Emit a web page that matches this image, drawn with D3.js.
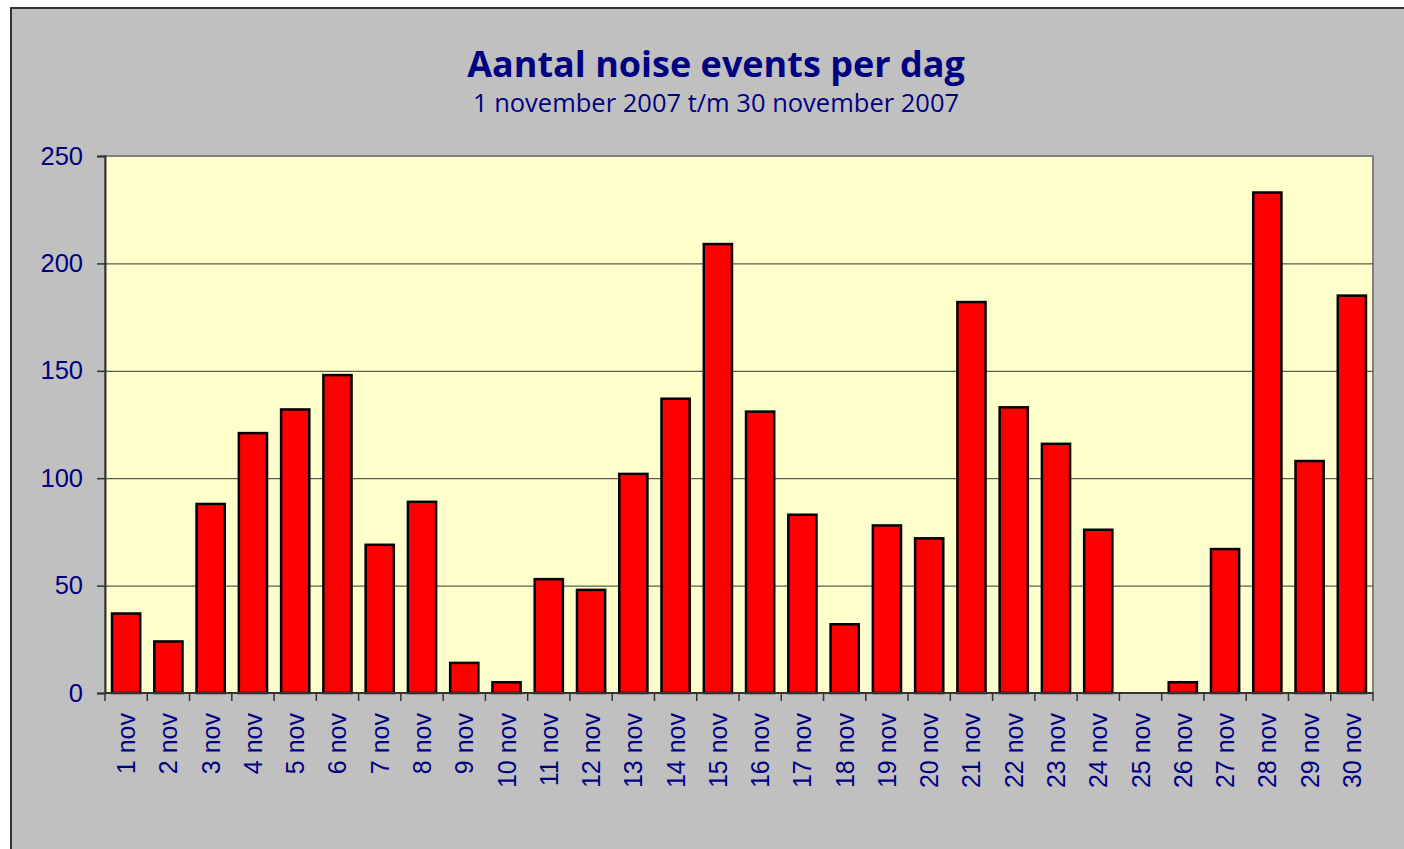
<!DOCTYPE html>
<html>
<head>
<meta charset="utf-8">
<script src="https://cdn.jsdelivr.net/npm/d3@7"></script>
<style>
  body { margin: 0; background: #ffffff; }
  svg { display: block; }
</style>
</head>
<body>
<svg id="chart" width="1404" height="849"></svg>
<script>
// data
var days = d3.range(1, 31).map(function(d){ return d + " nov"; });
var events = [37, 24, 88, 121, 132, 148, 69, 89, 14, 5,
              53, 48, 102, 137, 209, 131, 83, 32, 78, 72,
              182, 133, 116, 76, 0, 5, 67, 233, 108, 185];
var yTicks = [0, 50, 100, 150, 200, 250];
var title = "Aantal noise events per dag";
var subtitle = "1 november 2007 t/m 30 november 2007";

var svg = d3.select("#chart");
var navy = "#000080";

// outer frame
svg.append("rect")
    .attr("x", 11).attr("y", 8)
    .attr("width", 1420).attr("height", 880)
    .attr("fill", "#c0c0c0")
    .attr("stroke", "#333333")
    .attr("stroke-width", 2);

// plot area bounds
var pL = 105, pT = 156, pR = 1373, pB = 693;

var x = d3.scaleBand()
    .domain(days)
    .range([pL, pR])
    .paddingInner(1/3)
    .paddingOuter(1/6);

var y = d3.scaleLinear()
    .domain([0, 250])
    .range([pB, pT]);

// plot background
svg.append("rect")
    .attr("x", pL).attr("y", pT)
    .attr("width", pR - pL).attr("height", pB - pT)
    .attr("fill", "#ffffcc")
    .attr("stroke", "#808080")
    .attr("stroke-width", 2);

// gridlines
svg.append("g")
    .selectAll("line")
    .data(yTicks.filter(function(d){ return d > 0 && d < 250; }))
    .enter()
    .append("line")
    .attr("x1", pL).attr("x2", pR)
    .attr("y1", function(d){ return y(d) + 0.5; })
    .attr("y2", function(d){ return y(d) + 0.5; })
    .attr("stroke", "#333333")
    .attr("stroke-width", 1);

// bars
svg.append("g")
    .selectAll("rect")
    .data(events)
    .enter()
    .append("rect")
    .attr("x", function(d, i){ return x(days[i]); })
    .attr("y", function(d){ return y(d); })
    .attr("width", x.bandwidth())
    .attr("height", function(d){ return pB - y(d); })
    .attr("fill", function(d){ return d > 0 ? "#ff0000" : "none"; })
    .attr("stroke", function(d){ return d > 0 ? "#000000" : "none"; })
    .attr("stroke-width", 2.5);

// y axis
var yAxis = svg.append("g")
    .attr("transform", "translate(" + pL + ",0)")
    .call(d3.axisLeft(y).tickValues(yTicks).tickSize(8).tickPadding(14));
yAxis.select(".domain").attr("stroke", "#333333").attr("stroke-width", 2);
yAxis.selectAll(".tick line").attr("stroke", "#333333").attr("stroke-width", 1.5);
yAxis.selectAll("text")
    .attr("fill", navy)
    .style("font", "25.5px 'Liberation Sans', Arial, sans-serif");

// x axis with ticks on band edges
var xAxis = svg.append("g")
    .attr("transform", "translate(0," + pB + ")");
xAxis.append("line")
    .attr("x1", pL).attr("x2", pR)
    .attr("stroke", "#333333").attr("stroke-width", 2);
var edges = days.map(function(d){ return x(d) - x.step() * x.paddingInner() / 2; });
edges.push(pR);
xAxis.selectAll(".edge")
    .data(edges)
    .enter()
    .append("line")
    .attr("class", "edge")
    .attr("x1", function(d){ return d; }).attr("x2", function(d){ return d; })
    .attr("y1", 0).attr("y2", 8)
    .attr("stroke", "#333333").attr("stroke-width", 1.5);
xAxis.selectAll("text")
    .data(days)
    .enter()
    .append("text")
    .attr("transform", function(d){
        return "translate(" + (x(d) + x.bandwidth() / 2 + 9) + ",20) rotate(-90)";
    })
    .attr("text-anchor", "end")
    .attr("fill", navy)
    .style("font", "25px 'Liberation Sans', Arial, sans-serif")
    .text(function(d){ return d; });

// titles
svg.append("text")
    .attr("x", 716).attr("y", 77)
    .attr("text-anchor", "middle")
    .attr("fill", navy)
    .style("font", "bold 36px 'Open Sans', 'Noto Sans', sans-serif")
    .text(title);
svg.append("text")
    .attr("x", 716).attr("y", 112)
    .attr("text-anchor", "middle")
    .attr("fill", navy)
    .style("font", "25.5px 'Open Sans', 'Noto Sans', sans-serif")
    .text(subtitle);
</script>
</body>
</html>
